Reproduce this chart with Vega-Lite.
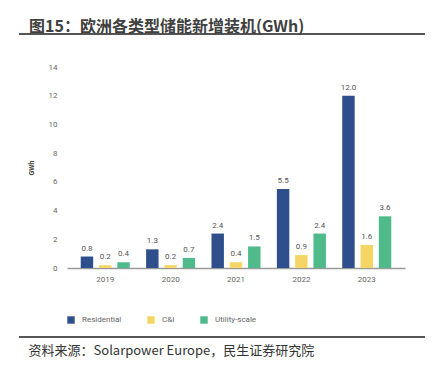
{
  "$schema": "https://vega.github.io/schema/vega-lite/v6.json",
  "width": 338,
  "height": 201,
  "autosize": {"type": "none"},
  "padding": {"left": 67, "top": 67, "right": 34, "bottom": 98},
  "background": "white",
  "title": {
    "text": "图15：欧洲各类型储能新增装机(GWh)",
    "anchor": "start",
    "frame": "group",
    "font": "Noto Sans CJK SC",
    "fontSize": 16,
    "fontWeight": "bold",
    "color": "#404040",
    "dx": -38,
    "offset": -2
  },
  "config": {
    "view": {"stroke": null},
    "font": "Roboto"
  },
  "layer": [
    {
      "data": {
        "values": [
          {"year": "2019", "type": "Residential", "value": 0.8},
          {"year": "2019", "type": "C&I", "value": 0.2},
          {"year": "2019", "type": "Utility-scale", "value": 0.4},
          {"year": "2020", "type": "Residential", "value": 1.3},
          {"year": "2020", "type": "C&I", "value": 0.2},
          {"year": "2020", "type": "Utility-scale", "value": 0.7},
          {"year": "2021", "type": "Residential", "value": 2.4},
          {"year": "2021", "type": "C&I", "value": 0.4},
          {"year": "2021", "type": "Utility-scale", "value": 1.5},
          {"year": "2022", "type": "Residential", "value": 5.5},
          {"year": "2022", "type": "C&I", "value": 0.9},
          {"year": "2022", "type": "Utility-scale", "value": 2.4},
          {"year": "2023", "type": "Residential", "value": 12.0},
          {"year": "2023", "type": "C&I", "value": 1.6},
          {"year": "2023", "type": "Utility-scale", "value": 3.6}
        ]
      },
      "encoding": {
        "x": {
          "field": "year",
          "type": "nominal",
          "scale": {"paddingInner": 0.25, "paddingOuter": 0.21},
          "axis": {
            "labelAngle": 0,
            "labelFontSize": 8,
            "labelColor": "#666666",
            "labelPadding": 7,
            "ticks": false,
            "domainColor": "#9a9a9a",
            "domainWidth": 1.5,
            "title": "资料来源：Solarpower Europe，民生证券研究院",
            "titleFont": "Noto Sans CJK SC",
            "titleFontSize": 13,
            "titleFontWeight": "normal",
            "titleColor": "#333333",
            "titleAnchor": "start",
            "titleAlign": "left",
            "titleBaseline": "middle",
            "titleX": -39,
            "titleY": 82
          }
        },
        "xOffset": {
          "field": "type",
          "type": "nominal",
          "sort": ["Residential", "C&I", "Utility-scale"],
          "scale": {"paddingInner": 0.32, "paddingOuter": 0}
        },
        "y": {
          "field": "value",
          "type": "quantitative",
          "scale": {"domain": [0, 14], "nice": false},
          "axis": {
            "values": [0, 2, 4, 6, 8, 10, 12, 14],
            "grid": false,
            "domain": false,
            "ticks": false,
            "labelFontSize": 8,
            "labelColor": "#666666",
            "labelPadding": 10,
            "title": "GWh",
            "titleFontSize": 7,
            "titleFontWeight": "bold",
            "titleColor": "#444444",
            "titlePadding": 14
          }
        }
      },
      "layer": [
        {
          "mark": {"type": "bar"},
          "encoding": {
            "color": {
              "field": "type",
              "type": "nominal",
              "sort": ["Residential", "C&I", "Utility-scale"],
              "scale": {
                "domain": ["Residential", "C&I", "Utility-scale"],
                "range": ["#2e4f8c", "#f5d563", "#4fba8a"]
              },
              "legend": {
                "title": null,
                "orient": "none",
                "direction": "horizontal",
                "legendX": 0,
                "legendY": 249,
                "symbolType": "square",
                "symbolSize": 55,
                "symbolStrokeWidth": 0,
                "labelFontSize": 8,
                "labelColor": "#666666",
                "labelOffset": 7,
                "columnPadding": 25
              }
            }
          }
        },
        {
          "mark": {"type": "text", "baseline": "bottom", "dy": -4, "fontSize": 8, "color": "#555555"},
          "encoding": {
            "text": {"field": "value", "type": "quantitative", "format": ".1f"}
          }
        }
      ]
    },
    {
      "data": {"values": [{"pos": "top"}]},
      "mark": {"type": "rule", "color": "#555555", "strokeWidth": 2},
      "encoding": {
        "x": {"value": -48},
        "x2": {"value": 358},
        "y": {"value": -33},
        "y2": {"value": -33}
      }
    },
    {
      "data": {"values": [{"pos": "bottom"}]},
      "mark": {"type": "rule", "color": "#555555", "strokeWidth": 2},
      "encoding": {
        "x": {"value": -48},
        "x2": {"value": 358},
        "y": {"value": 270},
        "y2": {"value": 270}
      }
    }
  ]
}
